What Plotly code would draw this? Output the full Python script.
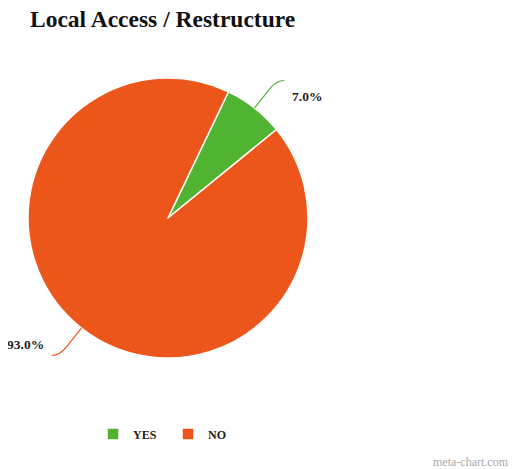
import math
import plotly.graph_objects as go

# ---- data ----
labels = ["YES", "NO"]
values = [7.0, 93.0]
colors = ["#50B432", "#ED561B"]
title_text = "Local Access / Restructure"
credit_text = "meta-chart.com"

# ---- layout constants (px, in page coordinates) ----
OFF = 8                      # page body margin offset
W, H = 516 - OFF, 469 - OFF  # figure size
cx, cy, r = 168, 218, 140
rotation = 25.6
serif = "Liberation Serif"


def px(x):
    return (x - OFF) / W


def py(y):
    return 1 - (y - OFF) / H


fig = go.Figure(
    go.Pie(
        labels=labels,
        values=values,
        sort=False,
        direction="clockwise",
        rotation=rotation,
        marker=dict(colors=colors, line=dict(color="white", width=1.5)),
        textinfo="none",
        hoverinfo="label+percent",
        domain=dict(x=[px(cx - r), px(cx + r)], y=[py(cy + r), py(cy - r)]),
    )
)

# connector lines + outside labels, derived from the data
total = sum(values)
start = rotation
shapes, annotations = [], []
for lab, v, col in zip(labels, values, colors):
    span = v / total * 360
    mid = math.radians(start + span / 2)
    start += span
    s, c = math.sin(mid), math.cos(mid)
    side = 1 if s >= 0 else -1
    p0 = (cx + r * s, cy - r * c)
    p1 = (cx + 1.17 * r * s, cy - 1.17 * r * c)
    pe = (cx + 1.25 * r * s, cy - 1.25 * r * c)
    p2 = (pe[0] + side * 8, pe[1])
    path = (
        f"M {px(p0[0])},{py(p0[1])} L {px(p1[0])},{py(p1[1])} "
        f"Q {px(pe[0])},{py(pe[1])} {px(p2[0])},{py(p2[1])}"
    )
    shapes.append(dict(type="path", path=path, xref="paper", yref="paper",
                       line=dict(color=col, width=1.2)))
    ly = p2[1] + (16 if c > 0 else -11)
    annotations.append(dict(
        text=f"{v / total * 100:.1f}%", x=px(p2[0] + side * 6), y=py(ly),
        xref="paper", yref="paper", showarrow=False,
        xanchor="left" if side > 0 else "right", yanchor="middle",
        font=dict(family=serif, size=13.5, color="#222", weight="bold"),
    ))

annotations.append(dict(
    text=credit_text, x=px(511), y=py(462), xref="paper", yref="paper",
    showarrow=False, xanchor="right", yanchor="middle",
    font=dict(family=serif, size=12, color="#aaaaaa"),
))

fig.update_layout(
    width=W, height=H,
    margin=dict(l=0, r=0, t=0, b=0),
    paper_bgcolor="white",
    plot_bgcolor="white",
    title=dict(text=title_text, x=px(30), xanchor="left", xref="paper",
               y=py(19), yref="container", yanchor="middle",
               font=dict(family=serif, size=23.5, color="#111", weight="bold")),
    showlegend=True,
    legend=dict(orientation="h", x=px(93), xanchor="left", y=py(434),
                yanchor="middle", font=dict(family=serif, size=12, color="#222",
                                             weight="bold"),
                entrywidth=30, entrywidthmode="pixels"),
    shapes=shapes,
    annotations=annotations,
)

fig.write_html("out.html")
